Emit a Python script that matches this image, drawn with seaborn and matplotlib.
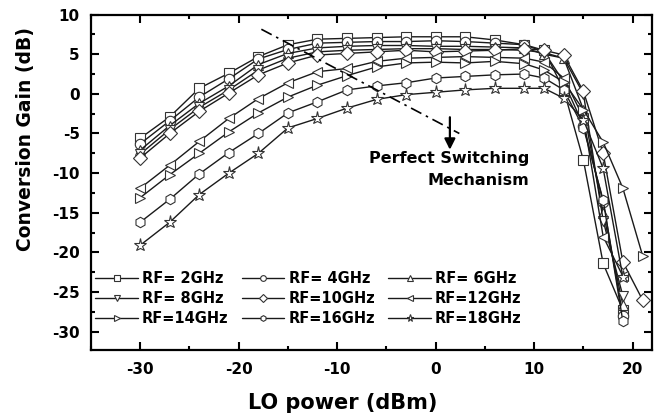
import pandas as pd
import seaborn as sns
import matplotlib
matplotlib.use("Agg")
import matplotlib.pyplot as plt
from matplotlib.ticker import MultipleLocator

# === LO sweep (dBm) ===
lo_power = [-30, -27, -24, -21, -18, -15, -12, -9, -6, -3, 0, 3, 6, 9,
            11, 13, 15, 17, 19, 21]

# === Conversion gain (dB) per RF frequency ===
gain_2ghz = [-5.6, -2.9, 0.7, 2.6, 4.7, 6.2, 6.9, 7.0, 7.1, 7.2, 7.2, 7.2, 6.8, 6.2,
             5.5, 0.5, -8.4, -21.4, -27.3]
gain_4ghz = [-6.3, -3.4, -0.4, 1.9, 4.4, 5.6, 6.4, 6.5, 6.6, 6.6, 6.7, 6.6, 6.4, 6.2,
             5.3, 1.5, -4.0, -13.6, -28.0]
gain_6ghz = [-7.1, -4.0, -1.2, 1.0, 3.7, 5.1, 5.8, 6.0, 6.1, 6.1, 6.0, 6.0, 5.9, 5.8,
             5.0, 4.5, -2.0, -15.0, -26.6]
gain_8ghz = [-7.6, -4.5, -1.7, 0.5, 3.0, 4.5, 5.3, 5.5, 5.6, 5.7, 5.7, 5.6, 5.6, 5.5,
             5.2, 4.5, 0.0, -16.0, -25.5]
gain_10ghz = [-8.1, -5.0, -2.2, 0.1, 2.4, 3.9, 4.9, 5.1, 5.3, 5.5, 5.3, 5.4, 5.5, 5.7,
              5.5, 4.9, 0.3, -7.5, -21.2, -26.0]
gain_12ghz = [-11.9, -9.0, -6.0, -3.1, -0.6, 1.4, 2.8, 3.2, 4.1, 4.5, 4.6, 4.7, 4.6, 4.5,
              4.0, 2.0, -3.0, -18.0, -23.0]
gain_14ghz = [-13.1, -10.2, -7.5, -4.8, -2.4, -0.4, 1.1, 2.3, 3.4, 3.9, 4.0, 3.9, 4.1, 3.8,
              3.0, 1.5, -2.0, -6.1, -11.9, -20.4]
gain_16ghz = [-16.2, -13.3, -10.1, -7.4, -5.0, -2.4, -1.0, 0.5, 1.0, 1.4, 2.0, 2.2, 2.4, 2.5,
              2.0, 0.5, -4.3, -13.4, -28.7]
gain_18ghz = [-19.1, -16.2, -12.7, -10.0, -7.5, -4.3, -3.1, -1.8, -0.7, -0.1, 0.2, 0.5, 0.7, 0.7,
              0.7, -0.55, -3.3, -9.4, -23.1]

rf_labels = ['RF= 2GHz', 'RF= 4GHz', 'RF= 6GHz', 'RF= 8GHz', 'RF=10GHz',
             'RF=12GHz', 'RF=14GHz', 'RF=16GHz', 'RF=18GHz']
gains = [gain_2ghz, gain_4ghz, gain_6ghz, gain_8ghz, gain_10ghz,
         gain_12ghz, gain_14ghz, gain_16ghz, gain_18ghz]
markers = ['s', 'o', '^', 'v', 'D', '<', '>', 'h', '*']

# annotation line (dash-dot) and arrow, in data coords
switch_line_x = [-17.7, 2.4]
switch_line_y = [8.15, -5.0]

sns.set_style("ticks")
plt.rcParams['font.family'] = ['DejaVu Sans']
plt.rcParams['font.weight'] = 'bold'
plt.rcParams['axes.unicode_minus'] = False
plt.rcParams['text.color'] = 'black'
plt.rcParams['axes.labelcolor'] = 'black'
plt.rcParams['xtick.color'] = 'black'
plt.rcParams['ytick.color'] = 'black'
plt.rcParams['xtick.direction'] = 'in'
plt.rcParams['ytick.direction'] = 'in'

fig = plt.figure(figsize=(6.59, 4.17), dpi=100)
ax = fig.add_axes([0.138, 0.161, 0.852, 0.804])

for lab, g, m in zip(rf_labels, gains, markers):
    df = pd.DataFrame({'LO': lo_power[:len(g)], 'Gain': g})
    ms = 9.5 if m == '*' else 7.5
    sns.lineplot(data=df, x='LO', y='Gain', ax=ax, label=lab,
                 color='#1a1a1a', lw=1.0, marker=m, markersize=ms,
                 markerfacecolor='white', markeredgecolor='#333333',
                 markeredgewidth=0.8, sort=False)

ax.plot(switch_line_x, switch_line_y, color='black', lw=1.2,
        linestyle=(0, (7, 3, 1.5, 3)))
ax.annotate('', xy=(1.44, -7.4), xytext=(1.44, -2.6),
            arrowprops=dict(arrowstyle='-|>', color='black', lw=1.6,
                            mutation_scale=16))
ax.text(9.5, -8.1, 'Perfect Switching', ha='right', va='center',
        fontsize=11.5, fontweight='bold')
ax.text(9.5, -10.9, 'Mechanism', ha='right', va='center',
        fontsize=11.5, fontweight='bold')

ax.set_xlim(-35, 22)
ax.set_ylim(-32.3, 10)
ax.xaxis.set_major_locator(MultipleLocator(10))
ax.xaxis.set_minor_locator(MultipleLocator(5))
ax.yaxis.set_major_locator(MultipleLocator(5))
ax.yaxis.set_minor_locator(MultipleLocator(2.5))
ax.tick_params(which='both', top=True, right=True, width=1.5)
ax.tick_params(which='major', length=6)
ax.tick_params(which='minor', length=3)
ax.tick_params(axis='x', labelsize=11, pad=9)
ax.tick_params(axis='y', labelsize=11, pad=8)
for lbl in ax.get_xticklabels() + ax.get_yticklabels():
    lbl.set_fontweight('bold')
for sp in ax.spines.values():
    sp.set_linewidth(1.6)
    sp.set_color('black')

ax.set_xlabel('LO power (dBm)', fontsize=15, fontweight='bold')
ax.set_ylabel('Conversion Gain (dB)', fontsize=13.5, fontweight='bold')
ax.xaxis.set_label_coords(0.448, -0.13)
ax.yaxis.set_label_coords(-0.1, 0.63)

handles, labels = ax.get_legend_handles_labels()
order = [0, 3, 6, 1, 4, 7, 2, 5, 8]
ax.legend([handles[i] for i in order], [labels[i] for i in order],
          ncol=3, loc='lower left', bbox_to_anchor=(0.008, 0.07),
          frameon=False, prop={'weight': 'bold', 'size': 10.5},
          handlelength=2.9, handletextpad=0.3, columnspacing=0.9,
          labelspacing=0.35, borderpad=0, borderaxespad=0, markerscale=0.55)

fig.savefig('out.png', dpi=100)
